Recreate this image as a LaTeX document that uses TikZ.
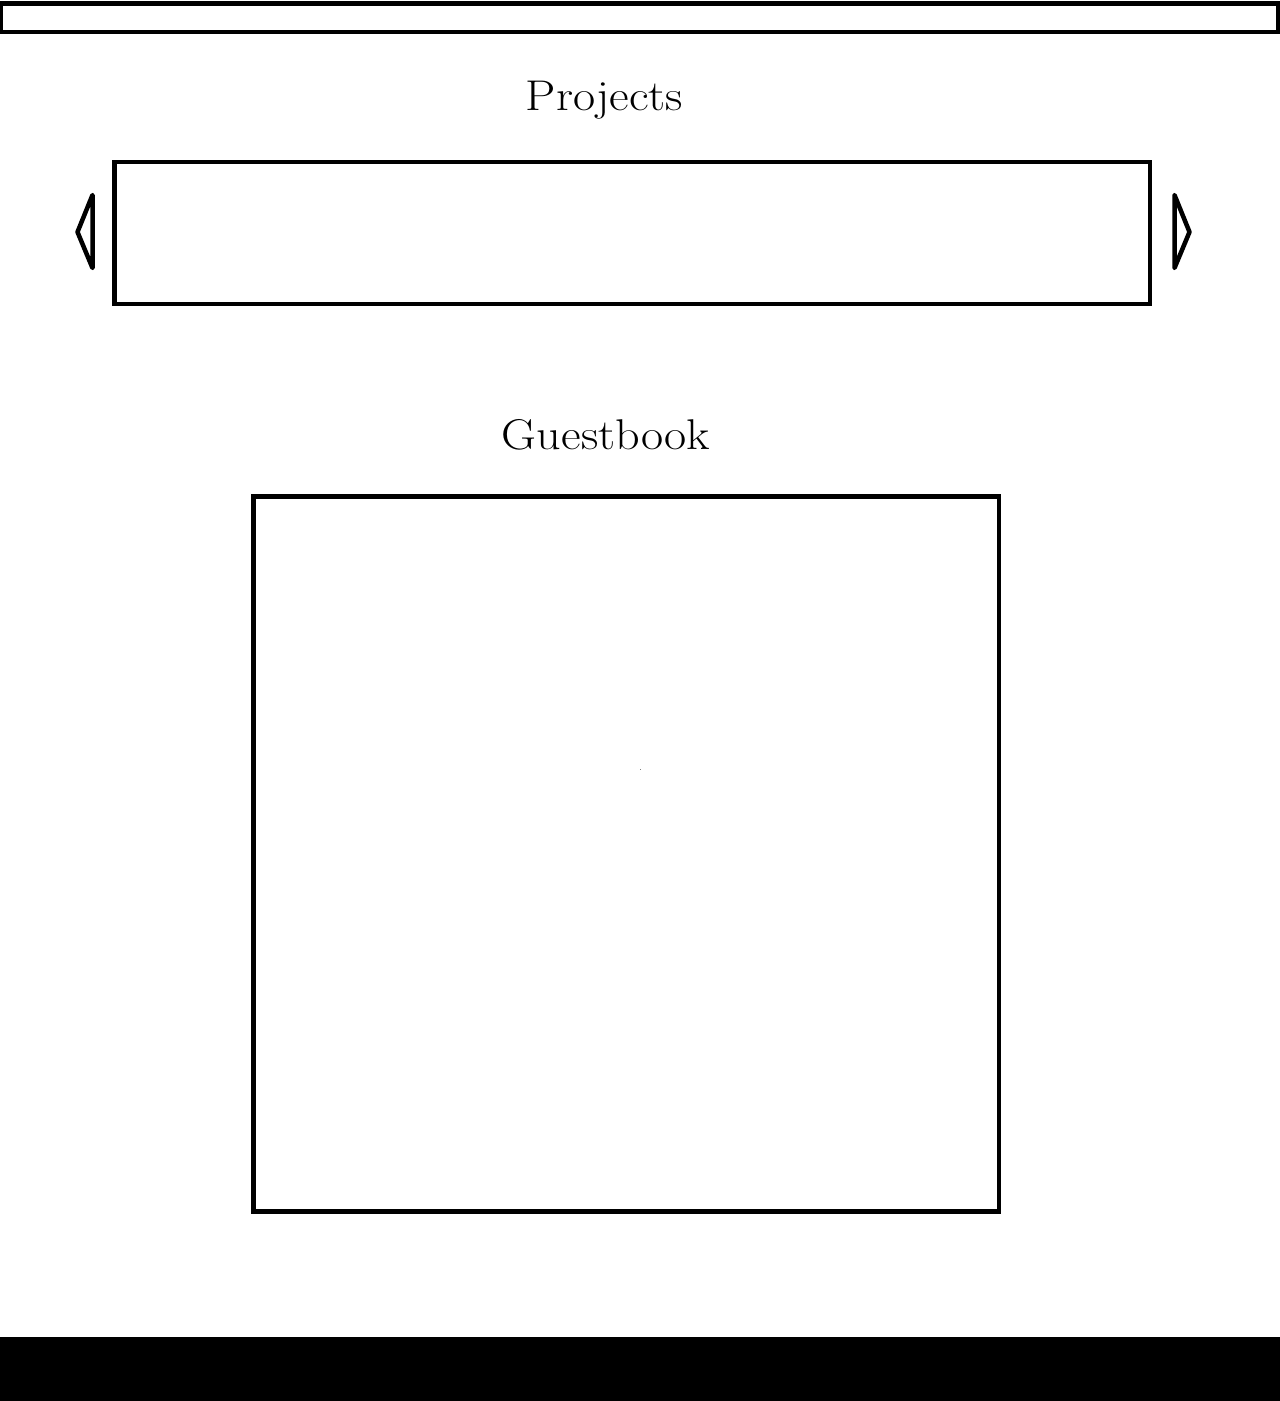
\documentclass[tikz,border=0pt]{standalone}
\usepackage{fontspec}
\setmainfont{Latin Modern Roman}
\begin{document}
\begin{tikzpicture}[x=1pt,y=-1pt,
  frame/.style={draw=black,line width=4.8pt,inner sep=0pt,outer sep=0pt,fill=none},
  title/.style={anchor=base,inner sep=0pt,xscale=1.12,font=\fontsize{43}{50}\selectfont},
  navarrow/.style={draw=black,line width=4.5pt,line join=round,line cap=round}]
\useasboundingbox[fill=white] (0,0) rectangle (1280,1401);
% top bar
\node[frame,minimum width=1277pt,minimum height=28.5pt] (topbar) at (639.5,17.75) {};
% titles
\node[title] (projects) at (604.5,110) {Projects};
\node[title] (guestbook) at (606,449) {Guestbook};
% projects carousel box
\node[frame,minimum width=1035.5pt,minimum height=142pt] (carousel) at (632.25,233) {};
% nav arrows
\coordinate (lt) at (92.5,195);
\coordinate (lm) at (77.5,232);
\coordinate (lb) at (92.5,268);
\draw[navarrow] (lt) -- (lm) -- (lb) -- cycle;
\coordinate (rt) at (1174.5,195);
\coordinate (rm) at (1189.5,232);
\coordinate (rb) at (1174.5,268);
\draw[navarrow] (rt) -- (rm) -- (rb) -- cycle;
% guestbook box
\node[frame,minimum width=745.5pt,minimum height=715pt] (gbox) at (626.25,854) {};
\fill[gray] (640,769) rectangle (641.2,770.2);
% footer
\fill[black] (0,1337) rectangle (1280,1401);
\end{tikzpicture}
\end{document}
